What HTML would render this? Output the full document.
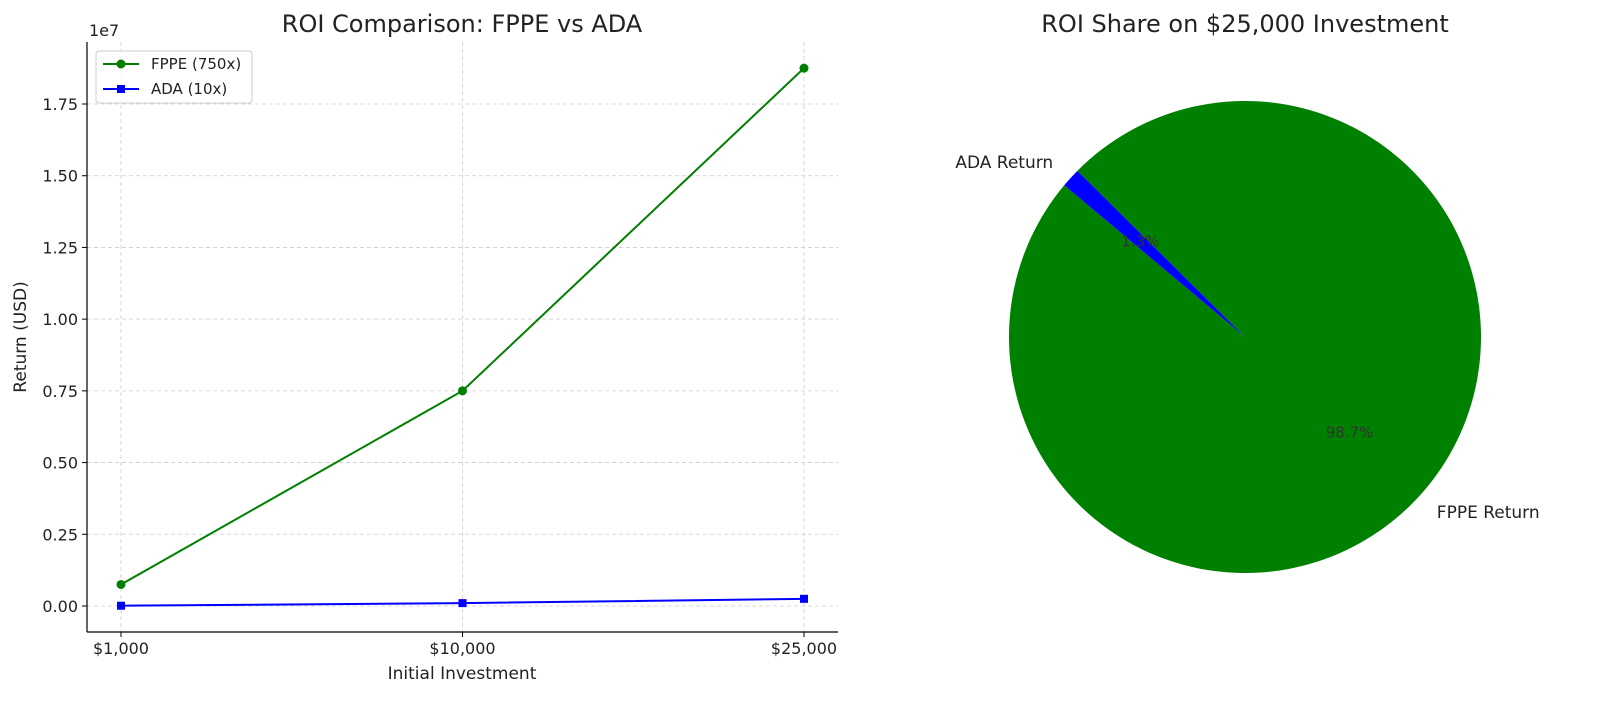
<!DOCTYPE html>
<html><head><meta charset="utf-8"><style>
body{margin:0;background:#fff}
svg{font-family:"DejaVu Sans","Liberation Sans",sans-serif}
</style></head><body>
<svg id="c" width="1600" height="710" viewBox="0 0 1600 710" xmlns="http://www.w3.org/2000/svg">
<text x="462" y="32" font-size="24" text-anchor="middle" fill="#222">ROI Comparison: FPPE vs ADA</text>
<text x="1245" y="32" font-size="24" text-anchor="middle" fill="#222">ROI Share on $25,000 Investment</text>
<g id="grid"></g>
<g id="lines"></g>
<line x1="87" y1="42" x2="87" y2="632" stroke="#000" stroke-width="1.2"/>
<line x1="87" y1="632" x2="838" y2="632" stroke="#000" stroke-width="1.2"/>
<text x="89" y="36" font-size="16" fill="#222">1e7</text>
<text transform="translate(26,337) rotate(-90)" font-size="17" text-anchor="middle" fill="#222">Return (USD)</text>
<text x="462" y="679" font-size="17" text-anchor="middle" fill="#222">Initial Investment</text>
<g>
<rect x="96" y="51" width="156" height="52" rx="3" fill="#fff" fill-opacity="0.8" stroke="#ccc"/>
<g><line x1="103" y1="64" x2="139" y2="64" stroke="green" stroke-width="2"/><circle cx="121" cy="64" r="4.5" fill="green"/><text x="151" y="69" font-size="15" fill="#222">FPPE (750x)</text></g>
<g><line x1="103" y1="89" x2="139" y2="89" stroke="blue" stroke-width="2"/><rect x="117" y="85" width="8" height="8" fill="blue"/><text x="151" y="94" font-size="15" fill="#222">ADA (10x)</text></g>
</g>
<g id="pie"></g>
</svg>
<script>
const categories=["$1,000","$10,000","$25,000"];
const fppeValues=[750000,7500000,18750000];
const adaValues=[10000,100000,250000];
const yTicks=[0,0.25,0.5,0.75,1.0,1.25,1.5,1.75];
const pieLabels=["FPPE Return","ADA Return"];
const pieValues=[18750000,250000];
const NS="http://www.w3.org/2000/svg";
function mk(t,a,p){const e=document.createElementNS(NS,t);for(const k in a)e.setAttribute(k,a[k]);p.appendChild(e);return e;}
const xS=i=>121+i*(804-121)/(categories.length-1);
const yS=v=>606-(v/1e7)*(606-104)/1.75;
const grid=document.getElementById('grid'),svg=document.getElementById('c'),lines=document.getElementById('lines');
yTicks.forEach(t=>{const y=yS(t*1e7);
const l=mk('line',{x1:87,x2:838,y1:y,y2:y,stroke:'#ccc','stroke-dasharray':'4,3','stroke-width':0.8},grid);


mk('line',{x1:82,x2:87,y1:y,y2:y,stroke:'#000'},grid);
const tx=mk('text',{x:78,y:y+6,'font-size':16,'text-anchor':'end',fill:'#222'},svg);tx.textContent=t.toFixed(2);

});
categories.forEach((c,i)=>{const x=xS(i);
const l=mk('line',{x1:x,x2:x,y1:42,y2:632,stroke:'#ccc','stroke-dasharray':'4,3','stroke-width':0.8},grid);


mk('line',{x1:x,x2:x,y1:632,y2:637,stroke:'#000'},grid);
const tx=mk('text',{x:x,y:654,'font-size':16,'text-anchor':'middle',fill:'#222'},svg);tx.textContent=c;

});
function series(vals,color,name,sq){
const p=mk('polyline',{points:vals.map((v,i)=>xS(i)+','+yS(v)).join(' '),fill:'none',stroke:color,'stroke-width':2},lines);


vals.forEach((v,i)=>{const m=sq?mk('rect',{x:xS(i)-4,y:yS(v)-4,width:8,height:8,fill:color},lines):mk('circle',{cx:xS(i),cy:yS(v),r:4.5,fill:color},lines);

});}
series(fppeValues,'green','fppe',false);
series(adaValues,'blue','ada',true);
const pie=document.getElementById('pie');const cx=1245,cy=337,r=236;const colors=['green','blue'];
const tot=pieValues.reduce((a,b)=>a+b,0);let ang=140;
const pt=(a,rr)=>[cx+rr*Math.cos(a*Math.PI/180),cy-rr*Math.sin(a*Math.PI/180)];
pieValues.forEach((v,i)=>{const sweep=v/tot*360;const a0=ang,a1=ang+sweep;
const [x0,y0]=pt(a0,r),[x1,y1]=pt(a1,r);
const s=mk('path',{d:`M${cx},${cy} L${x0},${y0} A${r},${r} 0 ${sweep>180?1:0} 0 ${x1},${y1} Z`,fill:colors[i]},pie);


const mid=(a0+a1)/2;const [lx,ly]=pt(mid,r*1.1);const [px,py]=pt(mid,r*0.6);
const lt=mk('text',{x:lx,y:ly+6,'font-size':17,'text-anchor':Math.cos(mid*Math.PI/180)<0?'end':'start',fill:'#222'},pie);lt.textContent=pieLabels[i];


const pc=mk('text',{x:px,y:py+5,'font-size':15,'text-anchor':'middle',fill:'#333'},pie);pc.textContent=(v/tot*100).toFixed(1)+'%';


ang=a1;});
</script>
</body></html>
